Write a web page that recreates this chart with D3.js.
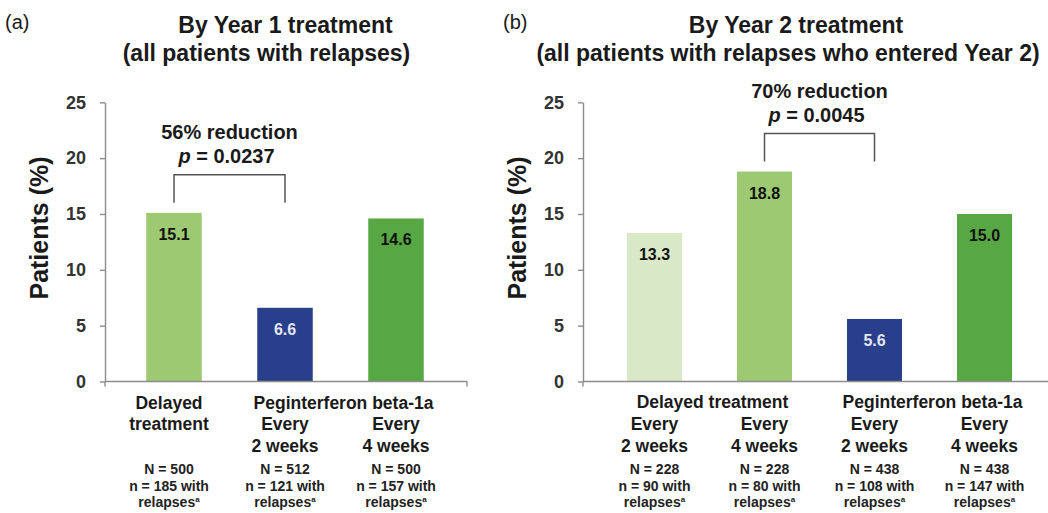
<!DOCTYPE html>
<html>
<head>
<meta charset="utf-8">
<script src="https://cdn.jsdelivr.net/npm/d3@7"></script>
<style>
  html, body { margin: 0; padding: 0; background: #fff; }
  svg { display: block; font-family: "Liberation Sans", Arial, sans-serif; }
</style>
</head>
<body>
<svg id="chart" width="1048" height="513"></svg>
<script>
// ---- Data ----
const yTicks = [0, 5, 10, 15, 20, 25];

// Panel (a): by Year 1 treatment
const catsA = ["Delayed treatment", "PEG q2w", "PEG q4w"];
const valuesA = [15.1, 6.6, 14.6];
const bigNA = [500, 512, 500];
const relapsesA = [185, 121, 157];
const doseA = [null, ["Every", "2 weeks"], ["Every", "4 weeks"]];
const groupsA = [
  { lines: ["Delayed", "treatment"], from: 0, to: 0 },
  { lines: ["Peginterferon beta-1a"], from: 1, to: 2 }
];
const titleA = ["By Year 1 treatment", "(all patients with relapses)"];
const statA = { text: "56% reduction", p: "0.0237", pair: [0, 1] };

// Panel (b): by Year 2 treatment
const catsB = ["Delayed → q2w", "Delayed → q4w", "PEG q2w", "PEG q4w"];
const valuesB = [13.3, 18.8, 5.6, 15.0];
const bigNB = [228, 228, 438, 438];
const relapsesB = [90, 80, 108, 147];
const doseB = [["Every", "2 weeks"], ["Every", "4 weeks"], ["Every", "2 weeks"], ["Every", "4 weeks"]];
const groupsB = [
  { lines: ["Delayed treatment"], from: 0, to: 1 },
  { lines: ["Peginterferon beta-1a"], from: 2, to: 3 }
];
const titleB = ["By Year 2 treatment", "(all patients with relapses who entered Year 2)"];
const statB = { text: "70% reduction", p: "0.0045", pair: [1, 2] };

// ---- Styles ----
const C = {
  pale: "#d9e9c8",
  light: "#9cc972",
  dark: "#57a745",
  navy: "#283f8b",
  axis: "#8c8c8c",
  text: "#1a1a1a",
  bracket: "#555555"
};
const colorsA = [C.light, C.navy, C.dark];
const colorsB = [C.pale, C.light, C.navy, C.dark];

const svg = d3.select("#chart");

// shared vertical scale
const y = d3.scaleLinear().domain([0, 25]).range([381.5, 102.3]);

function drawPanel(cfg) {
  const g = svg.append("g");
  const x = d3.scaleBand().domain(cfg.cats).range(cfg.band)
    .paddingInner(0.5).paddingOuter(0.25);

  // panel tag
  g.append("text").attr("x", cfg.tagX).attr("y", 29)
    .attr("font-size", 20).attr("fill", C.text).text(cfg.tag);

  // title
  cfg.title.forEach((t, i) => {
    g.append("text").attr("x", cfg.titleX[i]).attr("y", 33 + i * 28)
      .attr("text-anchor", "middle").attr("font-size", 23)
      .attr("font-weight", "bold").attr("fill", C.text).text(t);
  });

  // y axis
  const yAxis = d3.axisLeft(y).tickValues(yTicks).tickSize(5).tickSizeOuter(0).tickPadding(14);
  const ya = g.append("g").attr("transform", `translate(${cfg.axisX},0)`).call(yAxis);
  ya.select(".domain").attr("stroke", C.axis).attr("stroke-width", 1.4);
  ya.selectAll(".tick line").attr("stroke", C.axis).attr("stroke-width", 1.4);
  ya.selectAll(".tick text").attr("font-size", 18).attr("font-weight", "bold")
    .attr("fill", "#333").attr("font-family", "Liberation Sans, Arial, sans-serif");

  // y axis title
  g.append("text")
    .attr("transform", `translate(${cfg.axisX - 57},228) rotate(-90)`)
    .attr("text-anchor", "middle").attr("font-size", 25).attr("font-weight", "bold")
    .attr("fill", C.text).text("Patients (%)");

  // bars
  g.selectAll("rect.bar").data(cfg.values).join("rect")
    .attr("class", "bar")
    .attr("x", (d, i) => x(cfg.cats[i]))
    .attr("width", x.bandwidth())
    .attr("y", d => y(d))
    .attr("height", d => y(0) - y(d))
    .attr("fill", (d, i) => cfg.colors[i]);

  // value labels
  g.selectAll("text.val").data(cfg.values).join("text")
    .attr("class", "val")
    .attr("x", (d, i) => x(cfg.cats[i]) + x.bandwidth() / 2)
    .attr("y", d => y(d) + 27)
    .attr("text-anchor", "middle").attr("font-size", 16).attr("font-weight", "bold")
    .attr("fill", (d, i) => cfg.colors[i] === C.navy ? "#e6e6f2" : "#111")
    .text(d => d.toFixed(1));

  // x axis line with end ticks
  const y0 = y(0);
  g.append("line").attr("x1", cfg.axisX).attr("x2", cfg.xEnd)
    .attr("y1", y0).attr("y2", y0).attr("stroke", C.axis).attr("stroke-width", 1.4);
  [cfg.axisX, cfg.xEnd].forEach(px => {
    g.append("line").attr("x1", px).attr("x2", px).attr("y1", y0).attr("y2", y0 + 5)
      .attr("stroke", C.axis).attr("stroke-width", 1.4);
  });

  // significance bracket
  const [a, b] = cfg.stat.pair;
  const xa = x(cfg.cats[a]) + x.bandwidth() / 2;
  const xb = x(cfg.cats[b]) + x.bandwidth() / 2;
  const legEnd = y(Math.max(cfg.values[a], cfg.values[b])) - 10;
  const top = legEnd - 28;
  g.append("path")
    .attr("d", `M${xa},${legEnd}V${top}H${xb}V${legEnd}`)
    .attr("fill", "none").attr("stroke", C.bracket).attr("stroke-width", 1.5);
  const cx = (xa + xb) / 2;
  g.append("text").attr("x", cx).attr("y", top - 36)
    .attr("text-anchor", "middle").attr("font-size", 20).attr("font-weight", "bold")
    .attr("fill", C.text).text(cfg.stat.text);
  const pt = g.append("text").attr("x", cx - 3).attr("y", top - 12)
    .attr("text-anchor", "middle").attr("font-size", 20).attr("font-weight", "bold")
    .attr("fill", C.text);
  pt.append("tspan").attr("font-style", "italic").text("p");
  pt.append("tspan").text(" = " + cfg.stat.p);

  // category labels
  const rows = [409, 430, 452];
  cfg.groups.forEach(gr => {
    const x1 = x(cfg.cats[gr.from]) + x.bandwidth() / 2;
    const x2 = x(cfg.cats[gr.to]) + x.bandwidth() / 2;
    const gx = (x1 + x2) / 2 + (gr.from === gr.to ? -5 : 3);
    gr.lines.forEach((t, i) => {
      g.append("text").attr("x", gx).attr("y", rows[i] - (cfg.tag === "(b)" ? 1 : 0))
        .attr("text-anchor", "middle").attr("font-size", 17.5).attr("font-weight", "bold")
        .attr("fill", C.text).text(t);
    });
  });
  cfg.dose.forEach((lines, i) => {
    if (!lines) return;
    const bx = x(cfg.cats[i]) + x.bandwidth() / 2;
    lines.forEach((t, j) => {
      g.append("text").attr("x", bx).attr("y", rows[j + 1])
        .attr("text-anchor", "middle").attr("font-size", 17.5).attr("font-weight", "bold")
        .attr("fill", C.text).text(t);
    });
  });

  // sample sizes
  const nRows = [474, 491, 507];
  cfg.bigN.forEach((N, i) => {
    const bx = x(cfg.cats[i]) + x.bandwidth() / 2 + (cfg.tag === "(a)" && i === 0 ? -5 : 0);
    const t = g.append("g").attr("font-size", 14).attr("font-weight", "bold").attr("fill", "#222");
    t.append("text").attr("x", bx).attr("y", nRows[0]).attr("text-anchor", "middle").text(`N = ${N}`);
    t.append("text").attr("x", bx).attr("y", nRows[1]).attr("text-anchor", "middle")
      .text(`n = ${cfg.rel[i]} with`);
    const r = t.append("text").attr("x", bx).attr("y", nRows[2]).attr("text-anchor", "middle");
    r.append("tspan").text("relapses");
    r.append("tspan").attr("font-size", 8).attr("dy", -5).text("a");
  });
}

drawPanel({
  tag: "(a)", tagX: 5, title: titleA, titleX: [285.5, 266.5],
  cats: catsA, values: valuesA, colors: colorsA, bigN: bigNA, rel: relapsesA,
  dose: doseA, groups: groupsA, stat: statA,
  axisX: 105, xEnd: 467, band: [118.5, 451.5]
});

drawPanel({
  tag: "(b)", tagX: 503, title: titleB, titleX: [796, 788],
  cats: catsB, values: valuesB, colors: colorsB, bigN: bigNB, rel: relapsesB,
  dose: doseB, groups: groupsB, stat: statB,
  axisX: 583, xEnd: 1060, band: [599.5, 1039.5]
});
</script>
</body>
</html>
